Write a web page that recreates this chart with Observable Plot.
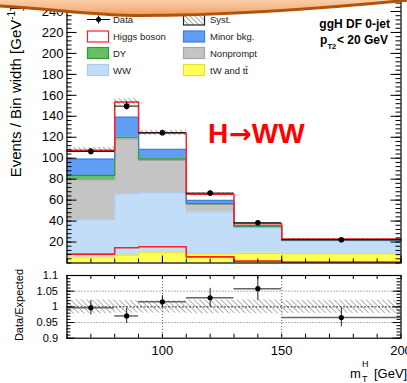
<!DOCTYPE html>
<html><head><meta charset="utf-8">
<script src="https://cdn.jsdelivr.net/npm/d3@7"></script>
<script src="https://cdn.jsdelivr.net/npm/@observablehq/plot@0.6"></script>
<style>
body{margin:0;background:#fff;}
#wrap{position:relative;width:407px;height:383px;overflow:hidden;font-family:"Liberation Sans",Arial,Helvetica,sans-serif;}
#wrap > svg{position:absolute;left:0;}
</style></head><body><div id="wrap"></div>
<script>
// ---------- data ----------
const binEdges = [60, 80, 90, 110, 130, 150, 200];
const binCenters = [70, 85, 100, 120, 140, 175];
const processNames = ["tW and tt\u0304", "WW", "Nonprompt", "DY", "Minor bkg.", "Higgs boson"];
const topValues = [5.5, 7.5, 9.8, 9.0, 9.2, 9.0];
const wwValues = [35.8, 58.5, 57.3, 39.6, 24.4, 12.2];
const nonpromptValues = [38.2, 52.3, 30.8, 7.3, 0.9, 0.3];
const dyValues = [4.1, 1.7, 1.4, 0.7, 0.4, 0.2];
const minorValues = [15.6, 19.2, 9.2, 3.1, 0.8, 0.3];
const higgsValues = [8.5, 14.5, 15.5, 5.8, 1.8, 0.9];
const dataValues = [106.5, 149.7, 124.3, 66.7, 38.4, 22.2];
const dataErrors = [2.6, 3.8, 2.5, 2.0, 1.4, 0.7];
const systRel = [0.022, 0.02, 0.02, 0.022, 0.022, 0.021];
const ratioValues = [0.997, 0.971, 1.016, 1.029, 1.058, 0.966];
const ratioErrors = [0.023, 0.024, 0.02, 0.03, 0.038, 0.03];
const yTicksMain = [20, 40, 60, 80, 100, 120, 140, 160, 180, 200, 220, 240];
const ratioTicks = [0.9, 0.95, 1, 1.05, 1.1];
const ratioTickLabels = ["0.9", "0.95", "1", "1.05", "1.1"];
const xTicks = [100, 150, 200];
const xTickLabels = ["100", "150", "200"];
const legendLeft = ["Data", "Higgs boson", "DY", "WW"];
const legendRight = ["Syst.", "Minor bkg.", "Nonprompt", "tW and tt\u0304"];

// ---------- styles ----------
const fills = ["#ffff55", "#c2ddf8", "#c4c4c4", "#66bf66", "#619ff6", "#ffffff"];
const lineColors = ["#e2e23a", "#a9cdf2", "#a6a6a6", "#2f9a2f", "#3a7fe6", "#ff2020"];
const W = 407, mL = 66.5, mR = 6.5, frameW = W - mL - mR;
const font = "Liberation Sans, Arial, Helvetica, sans-serif";

// ---------- stacking ----------
const series = [topValues, wwValues, nonpromptValues, dyValues, minorValues, higgsValues];
const cum = binCenters.map(() => 0);
const layers = series.map(vals => {
  const pts = binEdges.map((x, i) => {
    const j = Math.min(i, vals.length - 1);
    return {x, y1: cum[j], y2: cum[j] + vals[j]};
  });
  vals.forEach((v, j) => cum[j] += v);
  return pts;
});
const total = cum.slice();
const bins = binCenters.map((c, i) => ({
  x1: binEdges[i], x2: binEdges[i + 1], x: c,
  total: total[i], s: systRel[i],
  d: dataValues[i], de: dataErrors[i],
  r: ratioValues[i], re: ratioErrors[i]
}));
const higgsAlone = binEdges.map((x, i) => ({x, y: higgsValues[Math.min(i, higgsValues.length - 1)]}));

const wrap = document.getElementById("wrap");

// ---------- main panel ----------
const mainH = 266, mainMB = 3.5, mainFrameH = mainH - mainMB;
const yMinor = d3.range(0, 252, 4);
const xMinor = d3.range(60, 201, 10);
const main = Plot.plot({
  width: W, height: mainH,
  marginLeft: mL, marginRight: mR, marginTop: 0, marginBottom: mainMB,
  style: {fontFamily: font, fontSize: "13px", color: "#000", background: "transparent", overflow: "visible"},
  x: {domain: [60, 200], axis: null},
  y: {domain: [0, 250.5]},
  marks: [
    ...layers.map((pts, k) => Plot.areaY(pts, {x: "x", y1: "y1", y2: "y2", curve: "step-after", fill: fills[k]})),
    ...layers.map((pts, k) => Plot.line(pts, {x: "x", y: "y2", curve: "step-after", stroke: lineColors[k], strokeWidth: k === 5 ? 1.5 : 1.2})),
    Plot.line(higgsAlone, {x: "x", y: "y", curve: "step-after", stroke: "#ff2020", strokeWidth: 1.6}),
    Plot.rect(bins, {x1: "x1", x2: "x2", y1: d => d.total * (1 - d.s), y2: d => d.total * (1 + d.s), fill: "url(#hatchMain)"}),
    Plot.ruleY(bins, {x1: "x1", x2: "x2", y: "d", stroke: "#000", strokeWidth: 1}),
    Plot.ruleX(bins, {x: "x", y1: d => d.d - d.de, y2: d => d.d + d.de, stroke: "#000", strokeWidth: 1}),
    Plot.dot(bins, {x: "x", y: "d", r: 2.8, fill: "#000"}),
    // inward ticks (ROOT style)
    Plot.ruleY(yMinor, {insetRight: frameW - 5, stroke: "#000"}),
    Plot.ruleY(yTicksMain, {insetRight: frameW - 10, stroke: "#000"}),
    Plot.ruleY(yMinor, {insetLeft: frameW - 5, stroke: "#000"}),
    Plot.ruleY(yTicksMain, {insetLeft: frameW - 10, stroke: "#000"}),
    Plot.ruleX(xMinor, {insetTop: mainFrameH - 4, stroke: "#000"}),
    Plot.ruleX(xTicks, {insetTop: mainFrameH - 7, stroke: "#000"}),
    Plot.frame({stroke: "#000", strokeWidth: 1.2}),
    Plot.axisY(yTicksMain, {tickSize: 0, tickPadding: 3.5, label: null, fontSize: 13})
  ]
});
d3.select(main).insert("defs", ":first-child").html(
  '<pattern id="hatchMain" patternUnits="userSpaceOnUse" width="3.5" height="3.5" patternTransform="rotate(-45)"><line x1="0" y1="0" x2="0" y2="3.5" stroke="#444" stroke-width="0.9"/></pattern>');
main.style.top = "0px";
wrap.appendChild(main);

// ---------- ratio panel ----------
const ratioTop = 262, ratioH = 121, rMT = 13, rMB = 45.3, rFrameH = ratioH - rMT - rMB;
const rMinor = d3.range(90, 111, 1).map(v => v / 100);
const ratio = Plot.plot({
  width: W, height: ratioH,
  marginLeft: mL, marginRight: mR, marginTop: rMT, marginBottom: rMB,
  style: {fontFamily: font, fontSize: "13px", color: "#000", background: "transparent", overflow: "visible"},
  x: {domain: [60, 200]},
  y: {domain: [0.9, 1.1]},
  marks: [
    Plot.rect(bins, {x1: "x1", x2: "x2", y1: d => 1 - d.s, y2: d => 1 + d.s, fill: "url(#hatchRatio)"}),
    Plot.ruleY([0.95, 1.05], {stroke: "#666", strokeDasharray: "1,2", strokeWidth: 1}),
    Plot.ruleX([100, 150], {stroke: "#666", strokeDasharray: "1,2", strokeWidth: 1}),
    Plot.ruleY([1], {stroke: "#333", strokeDasharray: "2,1.5", strokeWidth: 1}),
    Plot.ruleY(bins, {x1: "x1", x2: "x2", y: "r", stroke: "#666", strokeWidth: 1.5}),
    Plot.ruleX(bins, {x: "x", y1: d => d.r - d.re, y2: d => d.r + d.re, stroke: "#222", strokeWidth: 1}),
    Plot.dot(bins, {x: "x", y: "r", r: 2.6, fill: "#000"}),
    Plot.ruleY(rMinor, {insetRight: frameW - 4, stroke: "#000"}),
    Plot.ruleY(ratioTicks, {insetRight: frameW - 8, stroke: "#000"}),
    Plot.ruleY(rMinor, {insetLeft: frameW - 4, stroke: "#000"}),
    Plot.ruleY(ratioTicks, {insetLeft: frameW - 8, stroke: "#000"}),
    Plot.ruleX(xMinor, {insetTop: rFrameH - 4, stroke: "#000"}),
    Plot.ruleX(xMinor, {insetBottom: rFrameH - 4, stroke: "#000"}),
    Plot.frame({stroke: "#000", strokeWidth: 1.2}),
    Plot.axisY(ratioTicks, {tickSize: 0, tickPadding: 9, label: null, fontSize: 11, tickFormat: d => ratioTickLabels[ratioTicks.indexOf(d)]}),
    Plot.axisX(xTicks, {tickSize: 0, tickPadding: 8, label: null, fontSize: 13, tickFormat: d => xTickLabels[xTicks.indexOf(d)]})
  ]
});
d3.select(ratio).insert("defs", ":first-child").html(
  '<pattern id="hatchRatio" patternUnits="userSpaceOnUse" width="3.8" height="3.8" patternTransform="rotate(-45)"><line x1="0" y1="0" x2="0" y2="3.8" stroke="#6e6e6e" stroke-width="1.1"/></pattern>');
ratio.style.top = ratioTop + "px";
wrap.appendChild(ratio);

// ---------- overlay: labels, legend, annotations ----------
const ov = d3.select(wrap).append("svg").attr("width", W).attr("height", 383)
  .style("top", "0px").style("font-family", font);
ov.append("defs").html(
  '<pattern id="hatchLeg" patternUnits="userSpaceOnUse" width="3.5" height="3.5" patternTransform="rotate(-45)"><line x1="0" y1="0" x2="0" y2="3.5" stroke="#444" stroke-width="0.9"/></pattern>');

// axis titles
const yl = ov.append("text").attr("transform", "translate(21,92) rotate(-90)").attr("text-anchor", "middle")
  .attr("font-size", 15).attr("fill", "#000");
yl.append("tspan").text("Events / Bin width [GeV");
yl.append("tspan").attr("dy", -6).attr("font-size", 10).text("-1");
yl.append("tspan").attr("dy", 6).text("]");
ov.append("text").attr("transform", "translate(23,305) rotate(-90)").attr("text-anchor", "middle")
  .attr("font-size", 11).attr("fill", "#000").text("Data/Expected");
ov.append("text").attr("x", 350).attr("y", 378).attr("font-size", 13).text("m");
ov.append("text").attr("x", 362).attr("y", 367).attr("font-size", 9).text("H");
ov.append("text").attr("x", 362).attr("y", 382).attr("font-size", 9).text("T");
ov.append("text").attr("x", 374).attr("y", 378).attr("font-size", 13).text("[GeV]");

// annotations
ov.append("text").attr("x", 390).attr("y", 27.5).attr("text-anchor", "end").attr("font-size", 12)
  .attr("font-weight", "bold").text("ggH DF 0-jet");
ov.append("text").attr("x", 320).attr("y", 43.5).attr("font-size", 12).attr("font-weight", "bold").text("p");
ov.append("text").attr("x", 327.5).attr("y", 49).attr("font-size", 7.5).attr("font-weight", "bold").text("T2");
ov.append("text").attr("x", 388).attr("y", 43.5).attr("text-anchor", "end").attr("font-size", 12)
  .attr("font-weight", "bold").text("< 20 GeV");
const hww = ov.append("text").attr("x", 208).attr("y", 143).attr("font-size", 28).attr("font-weight", "bold")
  .attr("fill", "#ff0000");
hww.append("tspan").text("H");
hww.append("tspan").attr("font-family", "DejaVu Sans").attr("font-size", 27).attr("dx", 1).text("\u2192");
hww.append("tspan").attr("dx", 0).text("WW");

// legend
const rowsY = [19.5, 36.5, 53, 70];
const legSw = [
  null, {fill: "#ffffff", stroke: "#ff2020"}, {fill: fills[3], stroke: lineColors[3]}, {fill: fills[1], stroke: lineColors[1]}
];
const legSwR = [
  {fill: "url(#hatchLeg)", stroke: "#222"}, {fill: fills[4], stroke: lineColors[4]}, {fill: fills[2], stroke: lineColors[2]}, {fill: fills[0], stroke: lineColors[0]}
];
rowsY.forEach((cy, i) => {
  if (legSw[i]) {
    ov.append("rect").attr("x", 87.5).attr("y", cy - 5.5).attr("width", 21).attr("height", 11)
      .attr("fill", legSw[i].fill).attr("stroke", legSw[i].stroke).attr("stroke-width", 1.2);
  } else {
    ov.append("line").attr("x1", 87).attr("x2", 110).attr("y1", cy).attr("y2", cy).attr("stroke", "#000");
    ov.append("line").attr("x1", 98.5).attr("x2", 98.5).attr("y1", cy - 4).attr("y2", cy + 4).attr("stroke", "#000");
    ov.append("circle").attr("cx", 98.5).attr("cy", cy).attr("r", 2.5).attr("fill", "#000");
  }
  ov.append("text").attr("x", 113).attr("y", cy + 3.5).attr("font-size", 9.5).attr("fill", "#222").text(legendLeft[i]);
  ov.append("rect").attr("x", 183.5).attr("y", cy - 5.5).attr("width", 21).attr("height", 11)
    .attr("fill", legSwR[i].fill).attr("stroke", legSwR[i].stroke).attr("stroke-width", 1.2);
  ov.append("text").attr("x", 210).attr("y", cy + 3.5).attr("font-size", 9.5).attr("fill", "#222").text(legendRight[i]);
});

// ---------- decorative banner on top ----------
const bn = d3.select(wrap).append("svg").attr("width", W).attr("height", 40).style("top", "0px");
bn.append("defs").html('<linearGradient id="bgGrad" gradientUnits="userSpaceOnUse" x1="0" y1="-2" x2="0" y2="16"><stop offset="0" stop-color="#fbd3b0"/><stop offset="0.55" stop-color="#f6b98a"/><stop offset="1" stop-color="#ee9a58"/></linearGradient>');
bn.append("path")
  .attr("d", "M-10,-10 L-10,5.5 C40,7 90,15.5 140,15.5 C220,15.5 330,8 420,-1 L420,-10 Z")
  .attr("fill", "url(#bgGrad)").attr("stroke", "#b0540c").attr("stroke-width", 3);
</script></body></html>
